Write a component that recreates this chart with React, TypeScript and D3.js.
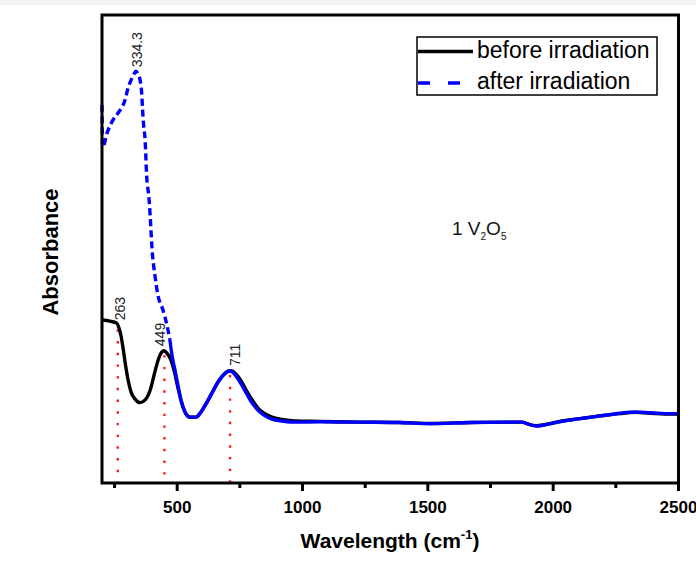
import React from 'react';
import * as d3 from 'd3';

// ---- data ----
const beforeWl = [200, 232, 259, 268, 276, 284, 292, 304, 316, 332, 352, 372, 392, 411, 427, 439, 447, 459, 471, 487, 503, 519, 535, 551, 575, 595, 615, 639, 663, 687, 707, 719, 735, 755, 775, 799, 822, 846, 878, 918, 970, 1070, 1229, 1389, 1509, 1668, 1828, 1876, 1900, 1932, 1968, 2027, 2107, 2187, 2267, 2327, 2387, 2447, 2500];
const beforeAbs = [0.418, 0.415, 0.410, 0.397, 0.377, 0.346, 0.310, 0.264, 0.233, 0.215, 0.206, 0.213, 0.238, 0.285, 0.321, 0.336, 0.339, 0.333, 0.321, 0.290, 0.244, 0.203, 0.177, 0.169, 0.169, 0.182, 0.203, 0.231, 0.259, 0.279, 0.287, 0.287, 0.279, 0.262, 0.238, 0.213, 0.192, 0.179, 0.169, 0.163, 0.159, 0.158, 0.156, 0.155, 0.153, 0.155, 0.156, 0.156, 0.151, 0.147, 0.150, 0.158, 0.165, 0.172, 0.178, 0.181, 0.179, 0.177, 0.177];

const afterWl = [200, 202, 204, 220, 244, 272, 292, 304, 316, 328, 334, 344, 352, 358, 362, 366, 372, 378, 388, 392, 400, 411, 423, 443, 459, 471, 479, 491, 503, 515, 531, 551, 575, 595, 615, 639, 663, 687, 707, 719, 735, 755, 775, 799, 822, 846, 878, 918, 970, 1070, 1229, 1389, 1509, 1668, 1828, 1876, 1900, 1932, 1968, 2027, 2107, 2187, 2267, 2327, 2387, 2447, 2500];
const afterAbs = [0.969, 0.870, 0.862, 0.897, 0.931, 0.956, 0.982, 1.013, 1.033, 1.049, 1.056, 1.049, 1.033, 1.003, 0.956, 0.918, 0.879, 0.790, 0.726, 0.687, 0.597, 0.533, 0.482, 0.444, 0.405, 0.367, 0.328, 0.290, 0.251, 0.213, 0.182, 0.169, 0.169, 0.182, 0.203, 0.231, 0.259, 0.279, 0.287, 0.285, 0.274, 0.254, 0.231, 0.205, 0.187, 0.174, 0.164, 0.159, 0.156, 0.157, 0.156, 0.155, 0.152, 0.155, 0.156, 0.156, 0.151, 0.146, 0.149, 0.157, 0.165, 0.172, 0.179, 0.182, 0.180, 0.178, 0.178];

const peakWl = [263, 449, 711];
const peakLabels = ['263', '449', '711'];
const afterPeakWl = 334.3;
const afterPeakLabel = '334.3';

const xMajorTicks = [500, 1000, 1500, 2000, 2500];
const xMinorTicks = [250, 750, 1250, 1750, 2250];
const seriesNames = ['before irradiation', 'after irradiation'];

const W = 696;
const H = 561;
const FONT = 'Arial, "Liberation Sans", sans-serif';
const labelDx = [2, -4, 5];

export default function App() {
  const x = d3.scaleLinear().domain([200, 2500]).range([102, 678.5]);
  const y = d3.scaleLinear().domain([0, 1.2]).range([483, 15]);

  const before = beforeWl.map((w, i) => [w, beforeAbs[i]] as [number, number]);
  const after = afterWl.map((w, i) => [w, afterAbs[i]] as [number, number]);

  const line = d3
    .line<[number, number]>()
    .x((d) => x(d[0]))
    .y((d) => y(d[1]))
    .curve(d3.curveMonotoneX);

  const afterSteep = after.filter((d) => d[0] <= 475);
  const afterFlat = after.filter((d) => d[0] >= 471);

  const beforeAt = (w: number) => {
    const i = d3.bisector((d: [number, number]) => d[0]).left(before, w);
    const a = before[Math.max(0, i - 1)];
    const b = before[Math.min(before.length - 1, i)];
    if (a[0] === b[0]) return a[1];
    return a[1] + ((b[1] - a[1]) * (w - a[0])) / (b[0] - a[0]);
  };
  const afterPeakV = d3.max(afterAbs) as number;

  return (
    <svg
      width={W}
      height={H}
      style={{ position: 'absolute', left: 0, top: 0, background: '#fff' }}
      fontFamily={FONT}
    >
      <rect x={0} y={0} width={W} height={H} fill="#fff" />
      <rect x={0} y={0} width={W} height={5} fill="#f3f3f3" />

      {/* red dotted peak markers */}
      {peakWl.map((w, i) => (
        <line
          key={'pl' + i}
          x1={x(w)}
          x2={x(w)}
          y1={y(beforeAt(w)) + 4}
          y2={483}
          stroke="#ff1a1a"
          strokeWidth={2.4}
          strokeDasharray="2.4,9.3"
        />
      ))}

      {/* before irradiation */}
      <path d={line(before) || ''} fill="none" stroke="#000" strokeWidth={3.4} strokeLinejoin="round" />

      {/* after irradiation */}
      <path
        d={line(afterSteep) || ''}
        fill="none"
        stroke="#0000ff"
        strokeWidth={3.4}
        strokeDasharray="7,4"
      />
      <path d={line(afterFlat) || ''} fill="none" stroke="#0000ff" strokeWidth={3.4} strokeLinejoin="round" />

      {/* peak labels */}
      {peakWl.map((w, i) => {
        const px = x(w) + labelDx[i];
        const py = y(beforeAt(w)) - 5;
        return (
          <text
            key={'lb' + i}
            transform={`translate(${px},${py}) rotate(-90)`}
            fontSize={14}
            dominantBaseline="central"
            fill="#222"
          >
            {peakLabels[i]}
          </text>
        );
      })}
      <text
        transform={`translate(${x(afterPeakWl) + 1},${y(afterPeakV) - 4}) rotate(-90)`}
        fontSize={14}
        dominantBaseline="central"
        fill="#222"
      >
        {afterPeakLabel}
      </text>

      {/* frame */}
      <rect x={102} y={15} width={576.5} height={468} fill="none" stroke="#000" strokeWidth={3} />

      {/* x ticks */}
      {xMajorTicks.map((t) => (
        <line key={'mt' + t} x1={x(t)} x2={x(t)} y1={483} y2={491} stroke="#000" strokeWidth={3} />
      ))}
      {xMinorTicks.map((t) => (
        <line key={'mn' + t} x1={x(t)} x2={x(t)} y1={483} y2={488} stroke="#000" strokeWidth={3} />
      ))}
      {xMajorTicks.map((t) => (
        <text key={'tl' + t} x={x(t)} y={513} fontSize={17} fontWeight="bold" textAnchor="middle" fill="#000">
          {t}
        </text>
      ))}

      {/* axis titles */}
      <text x={390} y={548} fontSize={21} fontWeight="bold" textAnchor="middle" fill="#000">
        Wavelength (cm
        <tspan fontSize={13} dy={-9}>-1</tspan>
        <tspan dy={9}>)</tspan>
      </text>
      <text
        transform="translate(58,252) rotate(-90)"
        fontSize={22}
        fontWeight="bold"
        textAnchor="middle"
        fill="#000"
      >
        Absorbance
      </text>

      {/* sample label */}
      <text x={452} y={235} fontSize={19} fill="#111">
        1 V<tspan fontSize={10} dy={5}>2</tspan>
        <tspan dy={-5}>O</tspan>
        <tspan fontSize={10} dy={5}>5</tspan>
      </text>

      {/* legend */}
      <rect x={417} y={37} width={240} height={58} fill="#fff" stroke="#000" strokeWidth={1.5} />
      <line x1={418} x2={473} y1={51.5} y2={51.5} stroke="#000" strokeWidth={3.4} />
      <line x1={418} x2={466} y1={83} y2={83} stroke="#0000ff" strokeWidth={3.4} strokeDasharray="12,18" />
      <text x={477} y={58} fontSize={23} fill="#000">
        {seriesNames[0]}
      </text>
      <text x={477} y={89} fontSize={23} fill="#000">
        {seriesNames[1]}
      </text>
    </svg>
  );
}
